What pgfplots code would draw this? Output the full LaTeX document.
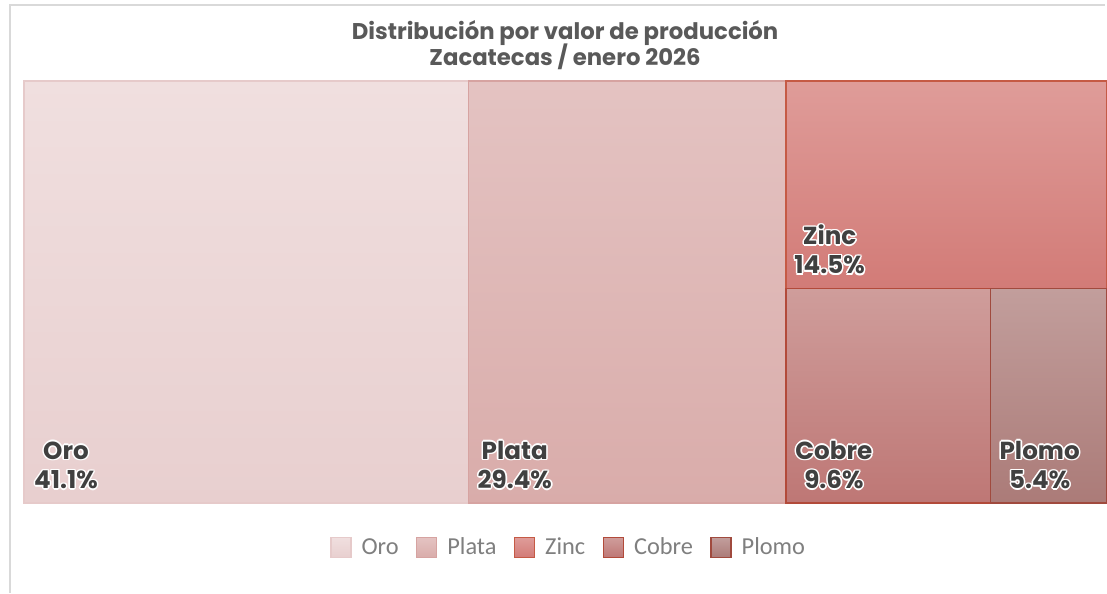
\documentclass[border=0pt]{standalone}
\usepackage{fontspec}
\setmainfont{Carlito}
\newfontfamily\titlefont{Poppins}[UprightFont=* Bold]
\newfontfamily\lblfont{Poppins}[UprightFont=* Bold]
\usepackage{pgfplots}
\pgfplotsset{compat=1.18}
\definecolor{oroT}{HTML}{F0DFDF}\definecolor{oroB}{HTML}{E8CFCF}\definecolor{oroL}{HTML}{E6CACA}
\definecolor{plaT}{HTML}{E4C3C2}\definecolor{plaB}{HTML}{D9ACAA}\definecolor{plaL}{HTML}{D6A3A1}
\definecolor{zinT}{HTML}{DF9C99}\definecolor{zinB}{HTML}{D27B77}\definecolor{zinL}{HTML}{C55A45}
\definecolor{cobT}{HTML}{CF9D9B}\definecolor{cobB}{HTML}{BE7775}\definecolor{cobL}{HTML}{B24A3A}
\definecolor{ploT}{HTML}{C29E9C}\definecolor{ploB}{HTML}{AB7B78}\definecolor{ploL}{HTML}{A04A3E}
\definecolor{txt}{HTML}{404040}
\definecolor{ttl}{HTML}{595959}
\definecolor{leg}{HTML}{7F7F7F}
% #1 coordinate, #2 x offset (px), #3 name, #4 percent
\newcommand\halo[4]{%
  \foreach \dx/\dy in {1.2/0,-1.2/0,0/1.2,0/-1.2,0.85/0.85,-0.85/0.85,0.85/-0.85,-0.85/-0.85}{%
    \node[anchor=south west, align=center, inner sep=0pt, text=white, font=\lblfont\fontsize{18.5}{22}\selectfont] at ([xshift=#2*0.75pt+\dx pt, yshift=10.5pt+\dy pt]#1) {#3\\#4};}%
  \node[anchor=south west, align=center, inner sep=0pt, text=txt, font=\lblfont\fontsize{18.5}{22}\selectfont] at ([xshift=#2*0.75pt, yshift=10.5pt]#1) {#3\\#4};%
}
\begin{document}
\begin{tikzpicture}
\begin{scope}[x=0.75pt,y=-0.75pt]
\path[use as bounding box] (0,0) rectangle (1107,594);
\fill[white] (0,0) rectangle (1107,594);
\draw[color={rgb,255:red,217;green,217;blue,217}, line width=1.5pt] (10,594) -- (10,5) -- (1107,5);
\node[font=\titlefont\fontsize{17.1}{19.5}\selectfont, text=ttl, anchor=base] at (566,40) {Distribución por valor de producción};
\node[font=\titlefont\fontsize{17.1}{19.5}\selectfont, text=ttl, anchor=base] at (566,66) {Zacatecas / enero 2026};
\end{scope}
\begin{axis}[
  at={(24*0.75pt,-81*0.75pt)}, anchor=north west,
  scale only axis, width=1083*0.75pt, height=423*0.75pt,
  xmin=0, xmax=100, ymin=0, ymax=100,
  hide axis, clip=false,
  legend columns=5,
  legend style={at={(0.504,-0.105)}, anchor=center, draw=none, fill=none,
    font=\fontsize{18.3}{20}\selectfont, text=leg,
    /tikz/every odd column/.append style={column sep=5.5pt},
    /tikz/every even column/.append style={column sep=11pt},
    inner sep=0pt},
  legend image code/.code={\draw[#1, line width=1.1pt] (0pt,-7.5pt) rectangle (15pt,7.5pt);},
  every axis plot/.append style={line width=1.1pt},
]
\addplot[top color=oroT, bottom color=oroB, draw=oroL] coordinates {(0,0) (41.1,0) (41.1,100) (0,100)} -- cycle;
\addlegendentry{Oro}
\addplot[top color=plaT, bottom color=plaB, draw=plaL] coordinates {(41.1,0) (70.5,0) (70.5,100) (41.1,100)} -- cycle;
\addlegendentry{Plata}
\addplot[top color=zinT, bottom color=zinB, draw=zinL] coordinates {(70.5,50.85) (100.1,50.85) (100.1,100) (70.5,100)} -- cycle;
\addlegendentry{Zinc}
\addplot[top color=cobT, bottom color=cobB, draw=cobL] coordinates {(70.5,0) (89.38,0) (89.38,50.85) (70.5,50.85)} -- cycle;
\addlegendentry{Cobre}
\addplot[top color=ploT, bottom color=ploB, draw=ploL] coordinates {(89.38,0) (100.1,0) (100.1,50.85) (89.38,50.85)} -- cycle;
\addlegendentry{Plomo}
\coordinate (Lo) at (axis cs:0,0);
\coordinate (Lp) at (axis cs:41.1,0);
\coordinate (Lz) at (axis cs:70.5,50.85);
\coordinate (Lc) at (axis cs:70.5,0);
\coordinate (Lm) at (axis cs:89.38,0);
\end{axis}
\halo{Lo}{10}{Oro}{41.1\%}
\halo{Lp}{9}{Plata}{29.4\%}
\halo{Lz}{8}{Zinc}{14.5\%}
\halo{Lc}{9}{Cobre}{9.6\%}
\halo{Lm}{9}{Plomo}{5.4\%}
\end{tikzpicture}
\end{document}
